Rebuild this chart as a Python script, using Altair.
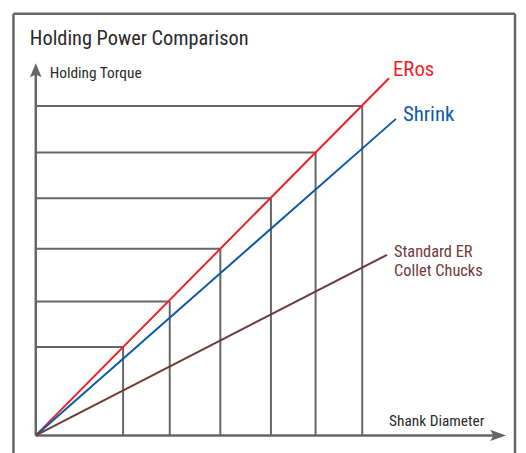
import altair as alt
import pandas as pd

# --- data (arbitrary units, origin at 0) ---
diameters = [88, 135, 186, 237, 282, 329]
eros_levels = [89, 135, 188, 239, 285, 332]

series_names = ["ERos", "Shrink", "Standard ER Collet Chucks"]
series_end_x = [356, 363, 354]
series_end_y = [360, 319, 182]
series_colors = ["#ee1f2a", "#0b5aa8", "#6e3b3b"]

x_axis_end = 474
y_axis_end = 375

FONT = "Liberation Sans Narrow, Roboto Condensed, Roboto"
GRAY = "#666666"

xs = alt.Scale(domain=[0, 486], range=[28, 514])
ys = alt.Scale(domain=[0, 429], range=[429, 0])

grid = pd.DataFrame({"x": diameters, "y": eros_levels, "zero": [0] * len(diameters)})

lines_rows = []
for n, ex, ey in zip(series_names, series_end_x, series_end_y):
    lines_rows.append({"series": n, "x": 0, "y": 0, "o": 0})
    lines_rows.append({"series": n, "x": ex, "y": ey, "o": 1})
lines = pd.DataFrame(lines_rows)

X = lambda f: alt.X(f, type="quantitative", scale=xs, axis=None)
Y = lambda f: alt.Y(f, type="quantitative", scale=ys, axis=None)

vert = alt.Chart(grid).mark_rule(color=GRAY, strokeWidth=2).encode(
    x=X("x"), y=Y("zero"), y2="y")
horiz = alt.Chart(grid).mark_rule(color=GRAY, strokeWidth=2).encode(
    x=X("zero"), x2="x", y=Y("y"))

axes_df = pd.DataFrame({"x0": [0, 0], "y0": [0, 0],
                        "x1": [x_axis_end - 10, 0], "y1": [0, y_axis_end - 10]})
axes = alt.Chart(axes_df).mark_rule(color=GRAY, strokeWidth=2.5).encode(
    x=X("x0"), x2="x1", y=Y("y0"), y2="y1")

arrow_r = alt.Chart(pd.DataFrame({"x": [x_axis_end], "y": [0]})).mark_point(
    shape="M0,0 L-1,-0.36 L-0.8,0 L-1,0.36 Z", size=1024, filled=True,
    color=GRAY, opacity=1, strokeWidth=0).encode(x=X("x"), y=Y("y"))
arrow_u = alt.Chart(pd.DataFrame({"x": [0], "y": [y_axis_end]})).mark_point(
    shape="M0,0 L-0.42,1 L0,0.8 L0.42,1 Z", size=784, filled=True,
    color=GRAY, opacity=1, strokeWidth=0).encode(x=X("x"), y=Y("y"))

series_lines = alt.Chart(lines).mark_line(strokeWidth=2).encode(
    x=X("x"), y=Y("y"), order="o",
    color=alt.Color("series:N", scale=alt.Scale(domain=series_names, range=series_colors), legend=None))

# frame
frame = alt.Chart(pd.DataFrame({"a": [0]})).mark_rule(color=GRAY, strokeWidth=2.5).encode(
    x=alt.value(5.5), y=alt.value(4), y2=alt.value(470))
frame_r = alt.Chart(pd.DataFrame({"a": [0]})).mark_rule(color=GRAY, strokeWidth=2.5).encode(
    x=alt.value(511), y=alt.value(4), y2=alt.value(470))
frame_t = alt.Chart(pd.DataFrame({"a": [0]})).mark_rule(color=GRAY, strokeWidth=2.5).encode(
    x=alt.value(5.5), x2=alt.value(511), y=alt.value(4))

def label(text, x, y, size, color):
    return alt.Chart(pd.DataFrame({"t": [text]})).mark_text(
        align="left", baseline="alphabetic", font=FONT, fontSize=size, color=color).encode(
        text="t:N", x=alt.value(x), y=alt.value(y))

labels = [
    label("Holding Power Comparison", 22, 36, 20.5, "#2a2a2a"),
    label("Holding Torque", 42, 69, 15.5, "#2a2a2a"),
    label("Shank Diameter", 384, 420, 15.5, "#2a2a2a"),
    label("ERos", 388, 67, 21, series_colors[0]),
    label("Shrink", 398, 112, 21, series_colors[1]),
    label("Standard ER", 389, 249, 16.5, series_colors[2]),
    label("Collet Chucks", 389, 268, 16.5, series_colors[2]),
]

chart = alt.layer(frame, frame_r, frame_t, vert, horiz, axes, arrow_r, arrow_u,
                  series_lines, *labels).properties(
    width=514, height=445, autosize=alt.AutoSizeParams(type="none"), padding=0
).configure_view(stroke=None)

chart.save("out.html", embed_options={"renderer": "svg", "actions": False})
